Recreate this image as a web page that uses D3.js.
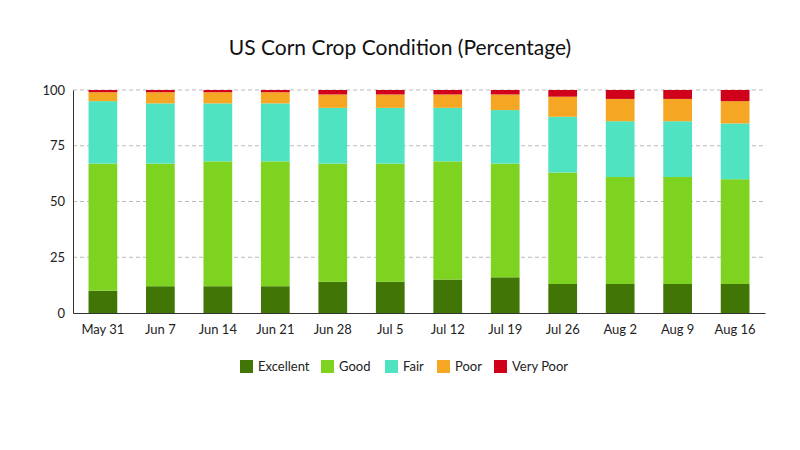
<!DOCTYPE html>
<html><head><meta charset="utf-8">
<script src="https://cdn.jsdelivr.net/npm/d3@7"></script>
<style>body{margin:0;background:#fff;font-family:Lato,sans-serif}</style>
</head><body><svg id="chart" width="800" height="450"></svg>
<script>
//data
let weeks = ["May 31","Jun 7","Jun 14","Jun 21","Jun 28","Jul 5","Jul 12","Jul 19","Jul 26","Aug 2","Aug 9","Aug 16"];
let excellent = [10,12,12,12,14,14,15,16,13,13,13,13];
let good = [57,55,56,56,53,53,53,51,50,48,48,47];
let fair = [28,27,26,26,25,25,24,24,25,25,25,25];
let poor = [4,5,5,5,6,6,6,7,9,10,10,10];
let veryPoor = [1,1,1,1,2,2,2,2,3,4,4,5];
let seriesNames = ["Excellent","Good","Fair","Poor","Very Poor"];
let colors = ["#417505","#7ed321","#50e3c2","#f5a623","#d0021b"];

let svg = d3.select("#chart");
let margin = {left: 73, right: 35, top: 90, bottom: 137};
let w = 800 - margin.left - margin.right, h = 450 - margin.top - margin.bottom;

let x = d3.scaleBand().domain(weeks).range([margin.left, margin.left + w]).paddingInner(0.5).paddingOuter(0.27);
let y = d3.scaleLinear().domain([0, 100]).range([margin.top + h, margin.top]);

//table for stack
let table = weeks.map((wk, i) => ({week: wk, Excellent: excellent[i], Good: good[i], Fair: fair[i], Poor: poor[i], "Very Poor": veryPoor[i]}));
let stacked = d3.stack().keys(seriesNames)(table);

//grid
svg.append("g").selectAll("line").data([25,50,75,100]).enter().append("line")
	.attr("x1", margin.left).attr("x2", margin.left + w)
	.attr("y1", d => y(d)).attr("y2", d => y(d))
	.attr("stroke", "#bbb").attr("stroke-dasharray", "4,3");

svg.append("g").selectAll("g").data(stacked).enter().append("g")
	.attr("fill", (d, i) => colors[i])
	.selectAll("rect").data(d => d).enter().append("rect")
	.attr("x", d => x(d.data.week)).attr("width", x.bandwidth())
	.attr("y", d => y(d[1])).attr("height", d => y(d[0]) - y(d[1]));

let xAxis = svg.append("g").attr("transform", "translate(0," + (margin.top + h) + ")")
	.call(d3.axisBottom(x).tickSize(0).tickPadding(12));
let yAxis = svg.append("g").attr("transform", "translate(" + margin.left + ",0)")
	.call(d3.axisLeft(y).tickValues([0,25,50,75,100]).tickSize(0).tickPadding(8));
[xAxis, yAxis].forEach(a => {
	a.selectAll("text").attr("font-family", "Lato").attr("font-size", 13).attr("fill", "#222");
	a.select(".domain").attr("stroke", "#333");
});

svg.append("text").attr("x", 400).attr("y", 55).attr("text-anchor", "middle")
	.attr("font-family", "Lato").attr("font-size", 21).attr("fill", "#111")
	.text("US Corn Crop Condition (Percentage)");

//legend
let legendX = [240, 321, 385, 437, 494];
let lg = svg.append("g").selectAll("g").data(seriesNames).enter().append("g")
	.attr("transform", (d, i) => "translate(" + legendX[i] + ",360)");
lg.append("rect").attr("width", 13).attr("height", 13).attr("fill", (d, i) => colors[i]);
lg.append("text").attr("x", 18).attr("y", 11).attr("font-family", "Lato").attr("font-size", 13)
	.attr("fill", "#222").text(d => d);
</script></body></html>
